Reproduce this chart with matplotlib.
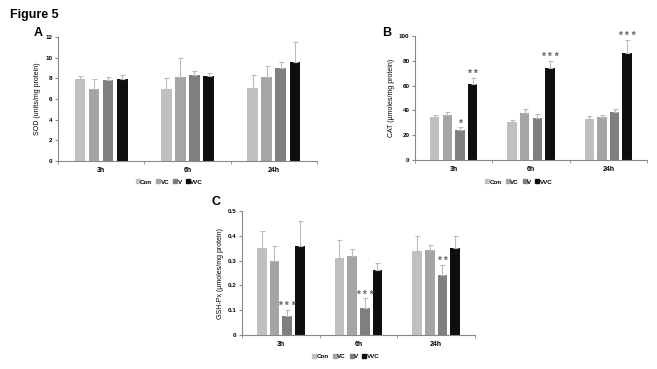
import numpy as np
import matplotlib.pyplot as plt
from matplotlib.lines import Line2D

# categories and groups
times = ['3h', '6h', '24h']
groups = ['Con', 'VC', 'V', 'VVC']
colors = ['#c0c0c0', '#a5a5a5', '#7f7f7f', '#0e0e0e']

# SOD (units/mg protein)
sod = [[7.9, 7.0, 7.1], [7.0, 8.1, 8.1], [7.8, 8.35, 9.0], [7.95, 8.25, 9.6]]
sod_err = [[0.35, 1.0, 1.25], [0.9, 1.9, 1.1], [0.35, 0.4, 0.6], [0.4, 0.3, 1.9]]
sod_sig = [['', '', ''], ['', '', ''], ['', '', ''], ['', '', '']]

# CAT (umoles/mg protein)
cat = [[34.5, 30.5, 33.0], [36.0, 38.0, 35.0], [24.5, 33.5, 39.0], [61.5, 74.0, 86.0]]
cat_err = [[2.0, 1.5, 2.5], [3.0, 3.0, 1.0], [2.0, 3.5, 2.0], [4.5, 6.0, 11.0]]
cat_sig = [['', '', ''], ['', '', ''], ['*', '', ''], ['**', '***', '***']]

# GSH-Px (umoles/mg protein)
gpx = [[0.352, 0.31, 0.338], [0.300, 0.320, 0.342], [0.078, 0.110, 0.244], [0.360, 0.262, 0.349]]
gpx_err = [[0.068, 0.072, 0.063], [0.058, 0.025, 0.023], [0.022, 0.038, 0.040], [0.098, 0.030, 0.050]]
gpx_sig = [['', '', ''], ['', '', ''], ['***', '***', '**'], ['', '', '']]

plt.rcParams['font.family'] = 'Liberation Sans'
plt.rcParams['font.weight'] = 'bold'

fig = plt.figure(figsize=(6.57, 3.69), dpi=100)

def panel(rect, vals, errs, sigs, ymax, ystep, ylabel, fmt, letter, lx, legpos):
	ax = fig.add_axes(rect)
	x = np.arange(len(times))
	w = 0.122
	step = 0.163
	for i, g in enumerate(groups):
		xs = x + (i - 1.5) * step
		ax.bar(xs, vals[i], w, color=colors[i], zorder=2)
		ax.errorbar(xs, vals[i], yerr=[np.zeros(3), errs[i]], fmt='none',
			ecolor='#bbbbbb', elinewidth=0.8, capsize=1.8, capthick=0.8, zorder=3)
		for j in range(3):
			if sigs[i][j]:
				ax.text(xs[j], vals[i][j] + errs[i][j] - ymax * 0.01, ' '.join(sigs[i][j]),
					ha='center', va='bottom', fontsize=7.5, color='#666666')
	ax.set_xlim(-0.5, 2.5)
	ax.set_ylim(0, ymax)
	ax.set_yticks(np.arange(0, ymax + ystep / 2, ystep))
	ax.set_yticklabels([fmt(v) for v in np.arange(0, ymax + ystep / 2, ystep)])
	ax.set_xticks(x)
	ax.set_xticklabels(times)
	ax.set_xticks([-0.5, 0.5, 1.5, 2.5], minor=True)
	ax.tick_params(axis='x', which='major', length=0, pad=4, labelsize=5)
	ax.tick_params(axis='x', which='minor', length=2, color='#888888')
	ax.tick_params(axis='y', length=2, color='#888888', labelsize=4.5, pad=2)
	for s in ['top', 'right']:
		ax.spines[s].set_visible(False)
	for s in ['left', 'bottom']:
		ax.spines[s].set_color('#888888')
		ax.spines[s].set_linewidth(0.8)
	ax.set_ylabel(ylabel, fontsize=5, labelpad=3)
	fig.text(lx[0], lx[1], letter, fontsize=9, fontweight='bold', ha='left', va='center')
	handles = [Line2D([], [], marker='s', linestyle='none', markersize=2.5,
		color=colors[i]) for i in range(4)]
	fig.legend(handles, groups, loc='center', bbox_to_anchor=legpos, ncol=4,
		frameon=False, fontsize=4.5, handletextpad=0.15, columnspacing=0.7,
		handlelength=0.5)
	return ax

panel([0.0883, 0.5637, 0.394, 0.336], sod, sod_err, sod_sig, 12, 2,
	'SOD (units/mg protein)', lambda v: '%d' % v, 'A', (0.052, 0.91), (0.258, 0.507))
panel([0.6317, 0.5664, 0.353, 0.336], cat, cat_err, cat_sig, 100, 20,
	'CAT (µmoles/mg protein)', lambda v: '%d' % v, 'B', (0.581, 0.91), (0.79, 0.507))
panel([0.3683, 0.0921, 0.3546, 0.336], gpx, gpx_err, gpx_sig, 0.5, 0.1,
	'GSH-Px (µmoles/mg protein)', lambda v: '0' if v == 0 else '%.1f' % v, 'C', (0.322, 0.452), (0.527, 0.035))

fig.text(0.015, 0.96, 'Figure 5', fontsize=9, fontweight='bold', ha='left', va='center')

fig.savefig('out.png', dpi=100)
